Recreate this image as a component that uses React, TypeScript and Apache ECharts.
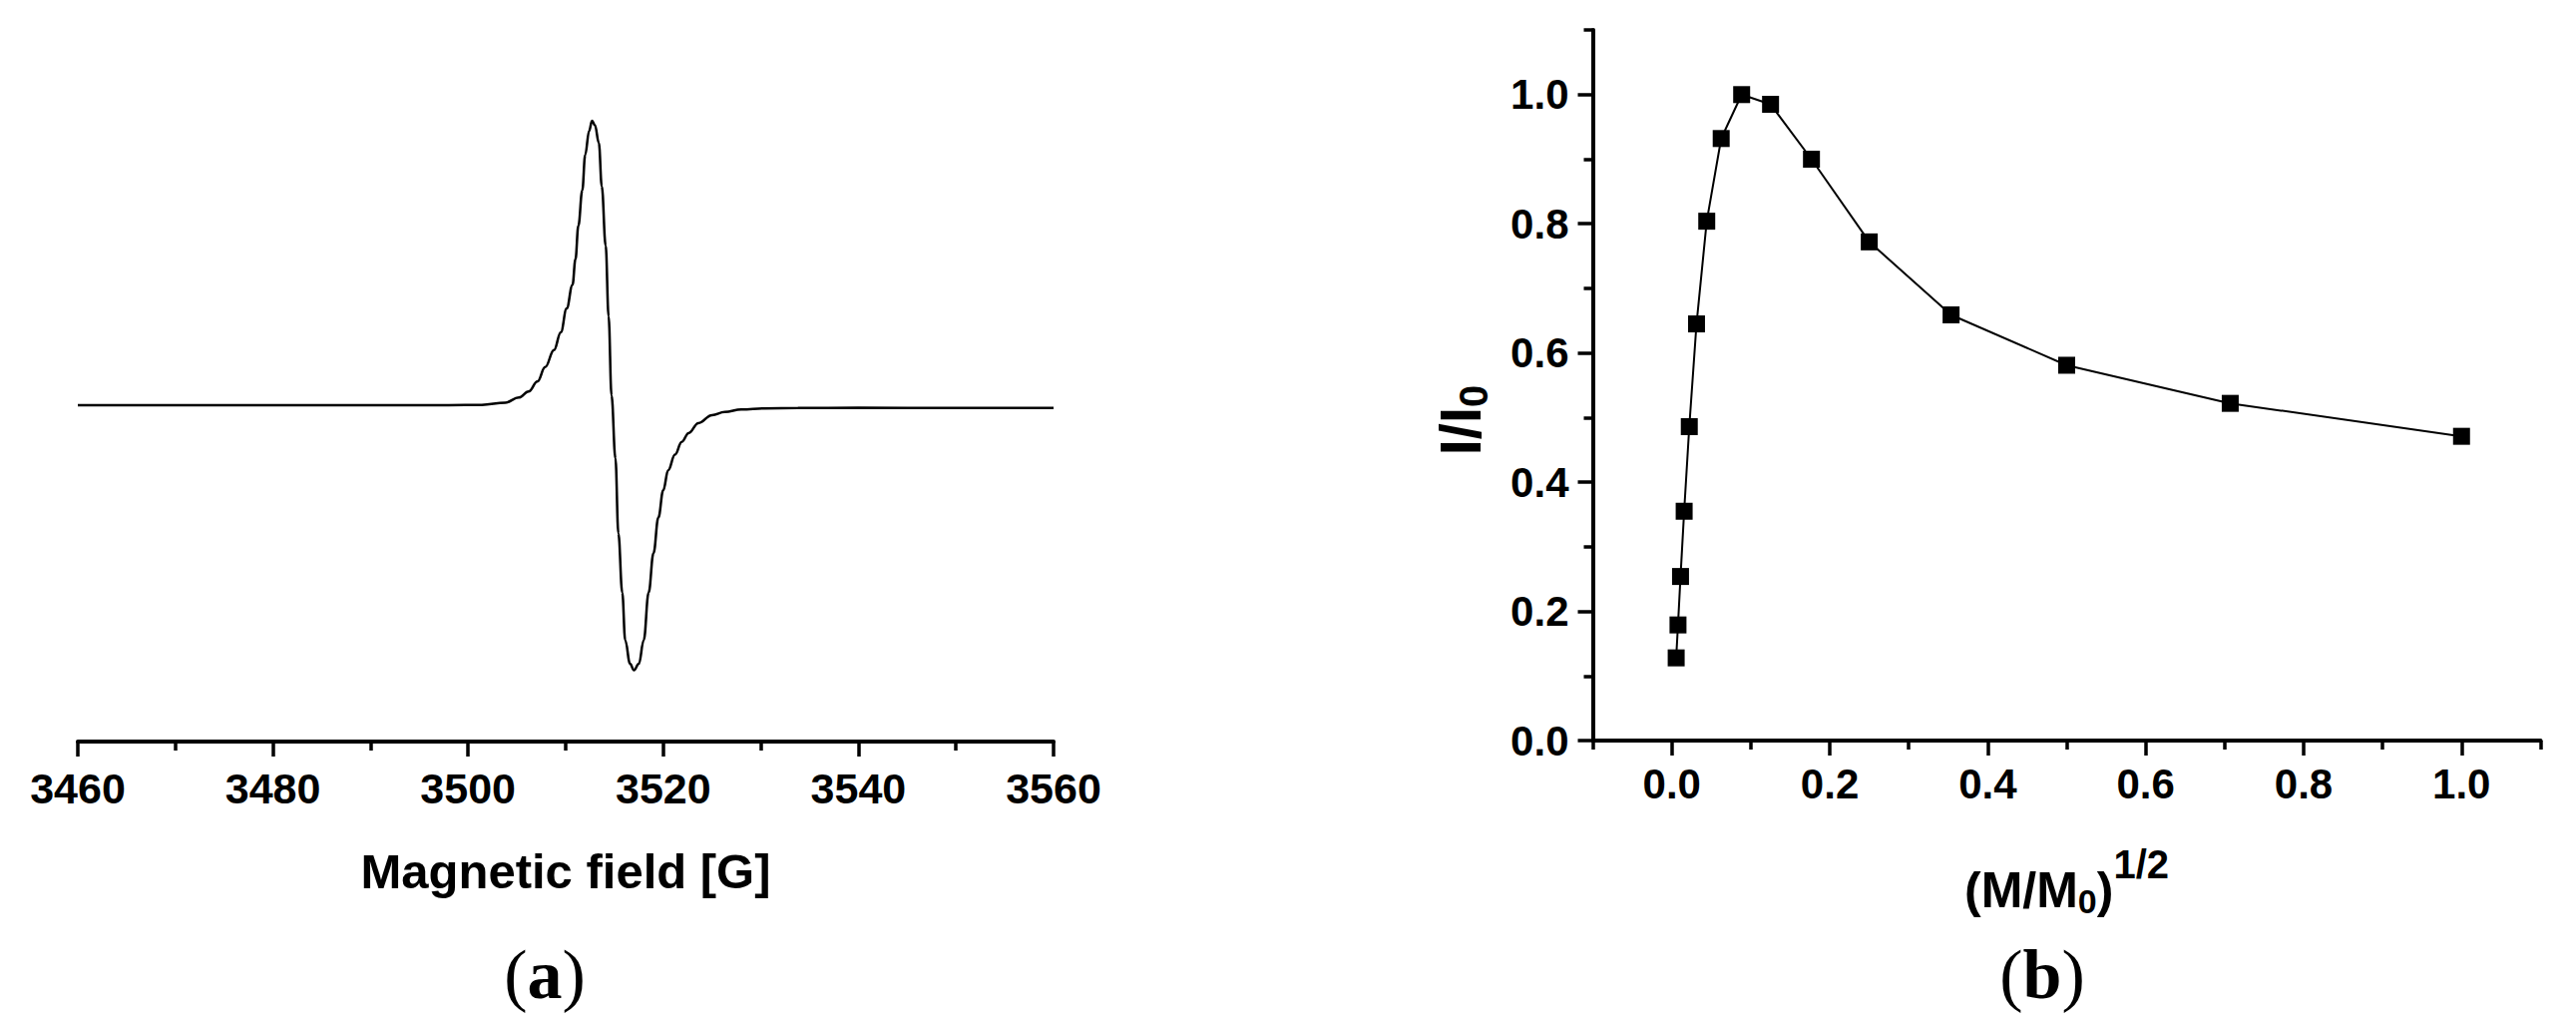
import React, { useEffect, useRef } from 'react';
import * as echarts from 'echarts';

// ---- Panel (a): EPR spectrum ----
const fieldG = [
  3460, 3470, 3480, 3490, 3495,
  3498.0, 3501.4, 3503.8, 3505.2, 3506.2, 3507.1, 3507.9, 3508.8, 3509.5, 3510.1,
  3510.7, 3511.0, 3511.3, 3511.7, 3512.0, 3512.4, 3512.7, 3513.0, 3513.4, 3513.7,
  3514.1, 3514.4, 3514.7, 3515.1, 3515.4, 3515.8, 3516.1, 3516.6, 3517.0, 3517.5,
  3518.0, 3518.5, 3519.0, 3519.5, 3520.0, 3520.5, 3521.2, 3521.9, 3522.6, 3523.6,
  3525.0, 3526.3, 3528.0, 3530.4, 3533.8,
  3540, 3550, 3560,
];
const eprSignal = [
  0.0, 0.0, 0.0, 0.0, 0.0,
  0.0, 0.001, 0.009, 0.027, 0.048, 0.083, 0.134, 0.194, 0.256, 0.34,
  0.423, 0.513, 0.631, 0.755, 0.88, 0.964, 1.0, 0.984, 0.922, 0.769,
  0.561, 0.312, 0.034, -0.187, -0.451, -0.659, -0.826, -0.909, -0.932, -0.909,
  -0.826, -0.659, -0.52, -0.395, -0.299, -0.229, -0.174, -0.129, -0.098, -0.063,
  -0.035, -0.024, -0.015, -0.011, -0.01,
  -0.009, -0.01, -0.01,
];

// ---- Panel (b): I/I0 vs (M/M0)^1/2 ----
const massRootRatio = [0.0055, 0.0078, 0.011, 0.0156, 0.0221, 0.03125, 0.0442, 0.0625, 0.0884, 0.125, 0.1768, 0.25, 0.3536, 0.5, 0.7071, 1.0];
const relIntensity = [0.128, 0.179, 0.254, 0.355, 0.486, 0.645, 0.804, 0.932, 1.0, 0.985, 0.9, 0.772, 0.659, 0.581, 0.522, 0.471];

const bMajorX = [0, 0.2, 0.4, 0.6, 0.8, 1.0];
const bMinorX = [-0.1, 0.1, 0.3, 0.5, 0.7, 0.9, 1.1];
const bMajorY = [0, 0.2, 0.4, 0.6, 0.8, 1.0];
const bMinorY = [0.1, 0.3, 0.5, 0.7, 0.9, 1.1];

const SANS = 'Liberation Sans';
const SERIF = 'Liberation Serif';
const BLACK = '#000';

export default function App() {
  const ref = useRef<HTMLDivElement>(null);
  useEffect(() => {
    if (!ref.current) return;
    const chart = echarts.init(ref.current, null, { renderer: 'svg' });
    const tickStyle = { color: BLACK, width: 3.5 };
    const labelStyle = { color: BLACK, fontSize: 42, fontWeight: 'bold' as const, fontFamily: SANS };
    const panelLabel = (x: number, letter: string) => ({
      type: 'text', x, y: 976,
      style: {
        text: `{p|(}{l|${letter}}{p|)}`, fill: BLACK, align: 'center', verticalAlign: 'middle',
        rich: {
          p: { fontSize: 70, fontFamily: SERIF, fill: BLACK, color: BLACK },
          l: { fontSize: 70, fontFamily: SERIF, fontWeight: 'bold', fill: BLACK, color: BLACK },
        },
      },
    });
    chart.setOption({
      animation: false,
      backgroundColor: '#fff',
      textStyle: { fontFamily: SANS },
      grid: [
        { left: 78, top: 64, width: 978, height: 679 },
        { left: 1596.5, top: 30, width: 950, height: 712 },
      ],
      xAxis: [
        {
          gridIndex: 0, type: 'value', position: 'bottom', min: 3460, max: 3560, interval: 20,
          axisLine: { onZero: false, lineStyle: { color: BLACK, width: 4 } },
          axisTick: { length: 15, lineStyle: tickStyle },
          minorTick: { show: true, splitNumber: 2, length: 9, lineStyle: tickStyle },
          splitLine: { show: false },
          minorSplitLine: { show: false },
          axisLabel: { ...labelStyle, fontSize: 43, margin: 25, formatter: (v: number) => String(Math.round(v)) },
          name: 'Magnetic field [G]', nameLocation: 'middle', nameGap: 105,
          nameTextStyle: { color: BLACK, fontSize: 49, fontWeight: 'bold', fontFamily: SANS },
        },
        {
          gridIndex: 1, type: 'value', position: 'bottom', min: -0.1001, max: 1.1001,
          axisLine: { onZero: false, lineStyle: { color: BLACK, width: 4 } },
          axisTick: { length: 15, lineStyle: tickStyle, customValues: bMajorX },
          splitLine: { show: false },
          axisLabel: { ...labelStyle, margin: 22, customValues: bMajorX, formatter: (v: number) => v.toFixed(1) },
          name: '{a|(M/M}{b|0}{a|)}{c|1/2}', nameLocation: 'middle', nameGap: 104,
          nameTextStyle: {
            color: BLACK,
            rich: {
              a: { fontSize: 50, fontWeight: 'bold', fontFamily: SANS, color: BLACK },
              b: { fontSize: 34, fontWeight: 'bold', fontFamily: SANS, color: BLACK, padding: [22, 0, 0, 0] },
              c: { fontSize: 40, fontWeight: 'bold', fontFamily: SANS, color: BLACK, padding: [0, 0, 52, 0] },
            },
          },
        },
        {
          gridIndex: 1, type: 'value', position: 'bottom', min: -0.1001, max: 1.1001,
          axisLine: { show: false, onZero: false },
          axisTick: { length: 9, lineStyle: tickStyle, customValues: bMinorX },
          axisLabel: { show: false },
          splitLine: { show: false },
        },
      ],
      yAxis: [
        { gridIndex: 0, type: 'value', min: -1.1825, max: 1.2, show: false, splitLine: { show: false } },
        {
          gridIndex: 1, type: 'value', position: 'left', min: 0, max: 1.1001,
          axisLine: { onZero: false, lineStyle: { color: BLACK, width: 4 } },
          axisTick: { length: 15, lineStyle: tickStyle, customValues: bMajorY },
          splitLine: { show: false },
          axisLabel: { ...labelStyle, margin: 24, customValues: bMajorY, formatter: (v: number) => v.toFixed(1) },
          name: '{a|I/I}{b|0}', nameLocation: 'middle', nameRotate: 90, nameGap: 100,
          nameTextStyle: {
            color: BLACK,
            padding: [0, 70, 0, 0],
            rich: {
              a: { fontSize: 58, fontWeight: 'bold', fontFamily: SANS, color: BLACK },
              b: { fontSize: 40, fontWeight: 'bold', fontFamily: SANS, color: BLACK, padding: [26, 0, 0, 0] },
            },
          },
        },
        {
          gridIndex: 1, type: 'value', position: 'left', min: 0, max: 1.1001,
          axisLine: { show: false, onZero: false },
          axisTick: { length: 9, lineStyle: tickStyle, customValues: bMinorY },
          axisLabel: { show: false },
          splitLine: { show: false },
        },
      ],
      series: [
        {
          type: 'line', xAxisIndex: 0, yAxisIndex: 0, showSymbol: false, symbol: 'none',
          smooth: 0.4, smoothMonotone: 'x',
          data: fieldG.map((g, i) => [g, eprSignal[i]]),
          lineStyle: { color: BLACK, width: 2.5 },
          clip: false,
        },
        {
          type: 'line', xAxisIndex: 1, yAxisIndex: 1, symbol: 'rect', symbolSize: 17,
          data: massRootRatio.map((m, i) => [m, relIntensity[i]]),
          lineStyle: { color: BLACK, width: 2 },
          itemStyle: { color: BLACK },
        },
      ],
      graphic: [panelLabel(546, 'a'), panelLabel(2047, 'b')],
    });
    return () => chart.dispose();
  }, []);
  return (
    <div
      ref={ref}
      style={{ position: 'absolute', left: 0, top: 0, width: 2582, height: 1030, background: '#fff' }}
    />
  );
}
